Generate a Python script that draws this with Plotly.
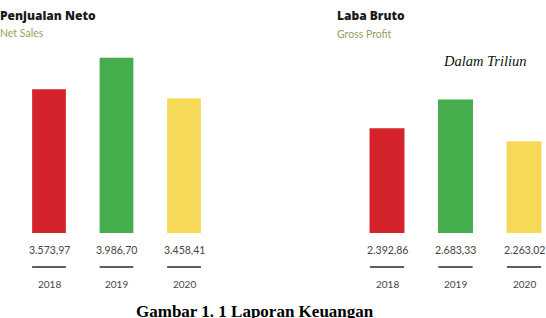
import plotly.graph_objects as go

years = ["2018", "2019", "2020"]
net_sales = [3573.97, 3986.70, 3458.41]
gross_profit = [2392.86, 2683.33, 2263.02]
net_sales_labels = ["3.573,97", "3.986,70", "3.458,41"]
gross_profit_labels = ["2.392,86", "2.683,33", "2.263,02"]
bar_colors = ["#d4232b", "#45ad4b", "#f6d957"]

W, H = 546, 318
def py(p):  # pixel y from top -> paper
    return (H - p) / H

fig = go.Figure()
fig.add_trace(go.Bar(x=years, y=net_sales, marker=dict(color=bar_colors, line=dict(width=0)),
                     width=0.5, xaxis="x", yaxis="y", showlegend=False, hoverinfo="x+y"))
fig.add_trace(go.Bar(x=years, y=gross_profit, marker=dict(color=bar_colors, line=dict(width=0)),
                     width=0.51, xaxis="x2", yaxis="y2", showlegend=False, hoverinfo="x+y"))

ybot = py(233)
axis_common = dict(showgrid=False, zeroline=False, showline=False, showticklabels=False, ticks="")
fig.update_layout(
    width=W, height=H, margin=dict(l=0, r=0, t=0, b=0),
    paper_bgcolor="white", plot_bgcolor="white",
    xaxis=dict(domain=[15.25 / W, 217.75 / W], type="category", range=[-0.5, 2.5], **axis_common),
    yaxis=dict(domain=[ybot, 1], range=[1700, 4739], **axis_common),
    xaxis2=dict(domain=[352.75 / W, 1], type="category", range=[-0.5, 2.321], anchor="y2", **axis_common),
    yaxis2=dict(domain=[ybot, 1], range=[1338, 3684], anchor="x2", **axis_common),
)

annots = []
shapes = []
num_font = dict(family="Lato, Inter, sans-serif", size=10.5, color="#454545")
year_font = dict(family="Lato, Inter, sans-serif", size=10, color="#454545")
for xr, labels in (("x", net_sales_labels), ("x2", gross_profit_labels)):
    for i, (yr, lab) in enumerate(zip(years, labels)):
        annots.append(dict(x=i, y=py(249.5), xref=xr, yref="paper", text=lab, showarrow=False,
                           font=num_font, xanchor="center", yanchor="middle"))
        annots.append(dict(x=i, y=py(284), xref=xr, yref="paper", text=yr, showarrow=False,
                           font=year_font, xanchor="center", yanchor="middle"))
        shapes.append(dict(type="line", xref=xr, yref="paper", x0=i - 0.25, x1=i + 0.25,
                           y0=py(267), y1=py(267),
                           line=dict(color="#5f5f5f", width=2.2)))

title_font = dict(family="Open Sans, sans-serif", size=12, color="#1a1a1a", weight=800)
sub_font = dict(family="Lato, sans-serif", size=10.5, color="#95a060")
annots += [
    dict(x=-2 / W, y=py(16), xref="paper", yref="paper", text="Penjualan Neto", showarrow=False,
         font=title_font, xanchor="left", yanchor="middle"),
    dict(x=-2 / W, y=py(33), xref="paper", yref="paper", text="Net Sales", showarrow=False,
         font=sub_font, xanchor="left", yanchor="middle"),
    dict(x=335 / W, y=py(16), xref="paper", yref="paper", text="Laba Bruto", showarrow=False,
         font=title_font, xanchor="left", yanchor="middle"),
    dict(x=335 / W, y=py(34), xref="paper", yref="paper", text="Gross Profit", showarrow=False,
         font=sub_font, xanchor="left", yanchor="middle"),
    dict(x=441 / W, y=py(61), xref="paper", yref="paper", text="<i>Dalam Triliun</i>", showarrow=False,
         font=dict(family="Liberation Serif, Times New Roman, serif", size=14.5, color="#111"),
         xanchor="left", yanchor="middle"),
    dict(x=255 / W, y=py(300), xref="paper", yref="paper", text="<b>Gambar 1. 1 Laporan Keuangan</b>",
         showarrow=False, font=dict(family="Liberation Serif, Times New Roman, serif", size=17, color="#000"),
         xanchor="center", yanchor="top"),
]
fig.update_layout(annotations=annots, shapes=shapes)
fig.write_html("out.html")
